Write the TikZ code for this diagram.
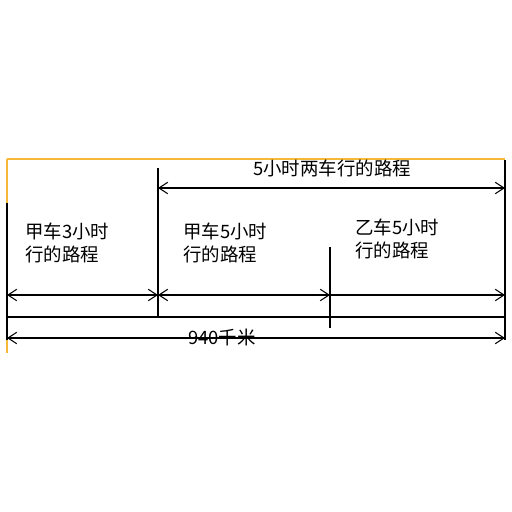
\documentclass[tikz,border=0pt]{standalone}
\usepackage{fontspec}
\setmainfont{Noto Sans CJK SC}
\usetikzlibrary{arrows.meta}
\definecolor{frameorange}{RGB}{245,185,55}
\tikzset{
  dim/.style={line width=.6pt,{Straight Barb[length=5pt,width=6.5pt]}-{Straight Barb[length=5pt,width=6.5pt]}},
  rightdim/.style={line width=.6pt,-{Straight Barb[length=5pt,width=6.5pt]}},
  txt/.style={font=\fontsize{10.5}{13}\selectfont,inner sep=0pt},
  blk/.style={txt,anchor=west,align=left}
}
\begin{document}
\begin{tikzpicture}[x=0.02cm,y=-0.02cm]
\useasboundingbox (0,0) rectangle (512,512);
% orange frame
\begin{scope}[frameorange,line width=.8pt]
\draw (7,159) -- (505,159);
\draw (7,159) -- (7,353);
\end{scope}
% points on the road
\coordinate (a1) at (7,295);
\coordinate (b1) at (158,295);
\coordinate (c1) at (330,295);
\coordinate (d1) at (505,295);
\coordinate (b0) at (158,188);
\coordinate (d0) at (505,188);
\coordinate (a2) at (7,338);
\coordinate (d2) at (505,338);
% vertical marks
\draw[line width=.6pt] (7,203) -- (7,340);
\draw[line width=.6pt] (158,168) -- (158,317);
\draw[line width=.6pt] (330,247) -- (330,328);
\draw[line width=.6pt] (505,160) -- (505,340);
% the road
\draw[line width=1.3pt] (7,317) -- (505,317);
% arrows
\draw[dim] (b0) -- (d0);
\draw[dim] (a1) -- (b1);
\draw[dim] (b1) -- (c1);
\draw[rightdim] (c1) -- (d1);
\draw[dim] (a2) -- (d2);
% labels
\node[txt] (both) at (332,168) {5小时两车行的路程};
\node[blk] (jia3) at (25,243) {甲车3小时\\行的路程};
\node[blk] (jia5) at (183,243) {甲车5小时\\行的路程};
\node[blk] (yi5) at (355,239) {乙车5小时\\行的路程};
\node[txt] (total) at (222,337) {940千米};
\end{tikzpicture}
\end{document}
